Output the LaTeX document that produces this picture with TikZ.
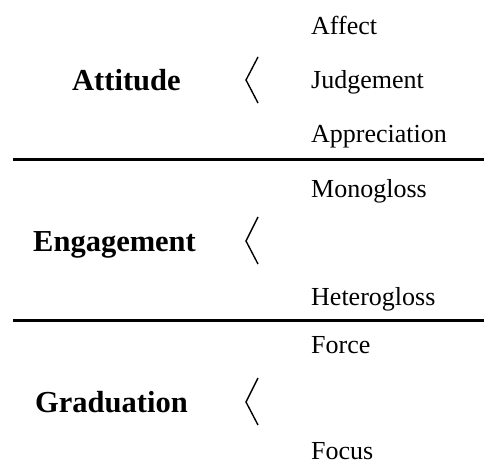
\documentclass[tikz,border=0pt]{standalone}
\usepackage{fontspec}
\setmainfont{Liberation Serif}
\begin{document}
\begin{tikzpicture}[x=1pt,y=-1pt,
  cat/.style={anchor=base west,inner sep=0pt,font=\fontsize{30.5}{36}\selectfont\bfseries},
  sub/.style={anchor=base west,inner sep=0pt,font=\fontsize{26}{30}\selectfont},
  rule/.style={line width=2.6pt},
  brack/.style={line width=1.4pt,line join=miter}]
\useasboundingbox (0,0) rectangle (484,465);
% Attitude
\node[cat] (att) at (72,91) {Attitude};
\draw[brack] (258,57) -- (246,80) -- (258,103);
\node[sub] (aff) at (311,35) {Affect};
\node[sub] (jud) at (311,89) {Judgement};
\node[sub] (app) at (311,143) {Appreciation};
\coordinate (r1a) at (13,159.5);
\coordinate (r1b) at (484,159.5);
\draw[rule] (r1a) -- (r1b);
% Engagement
\node[cat] (eng) at (33,251) {Engagement};
\draw[brack] (258,217) -- (246,241) -- (258,264);
\node[sub] (mono) at (311,197) {Monogloss};
\node[sub] (het) at (311,305) {Heterogloss};
\coordinate (r2a) at (13,320.5);
\coordinate (r2b) at (484,320.5);
\draw[rule] (r2a) -- (r2b);
% Graduation
\node[cat] (grad) at (35,412) {Graduation};
\draw[brack] (258,378) -- (246,402) -- (258,425);
\node[sub] (force) at (311,353) {Force};
\node[sub] (focus) at (311,459) {Focus};
\end{tikzpicture}
\end{document}
